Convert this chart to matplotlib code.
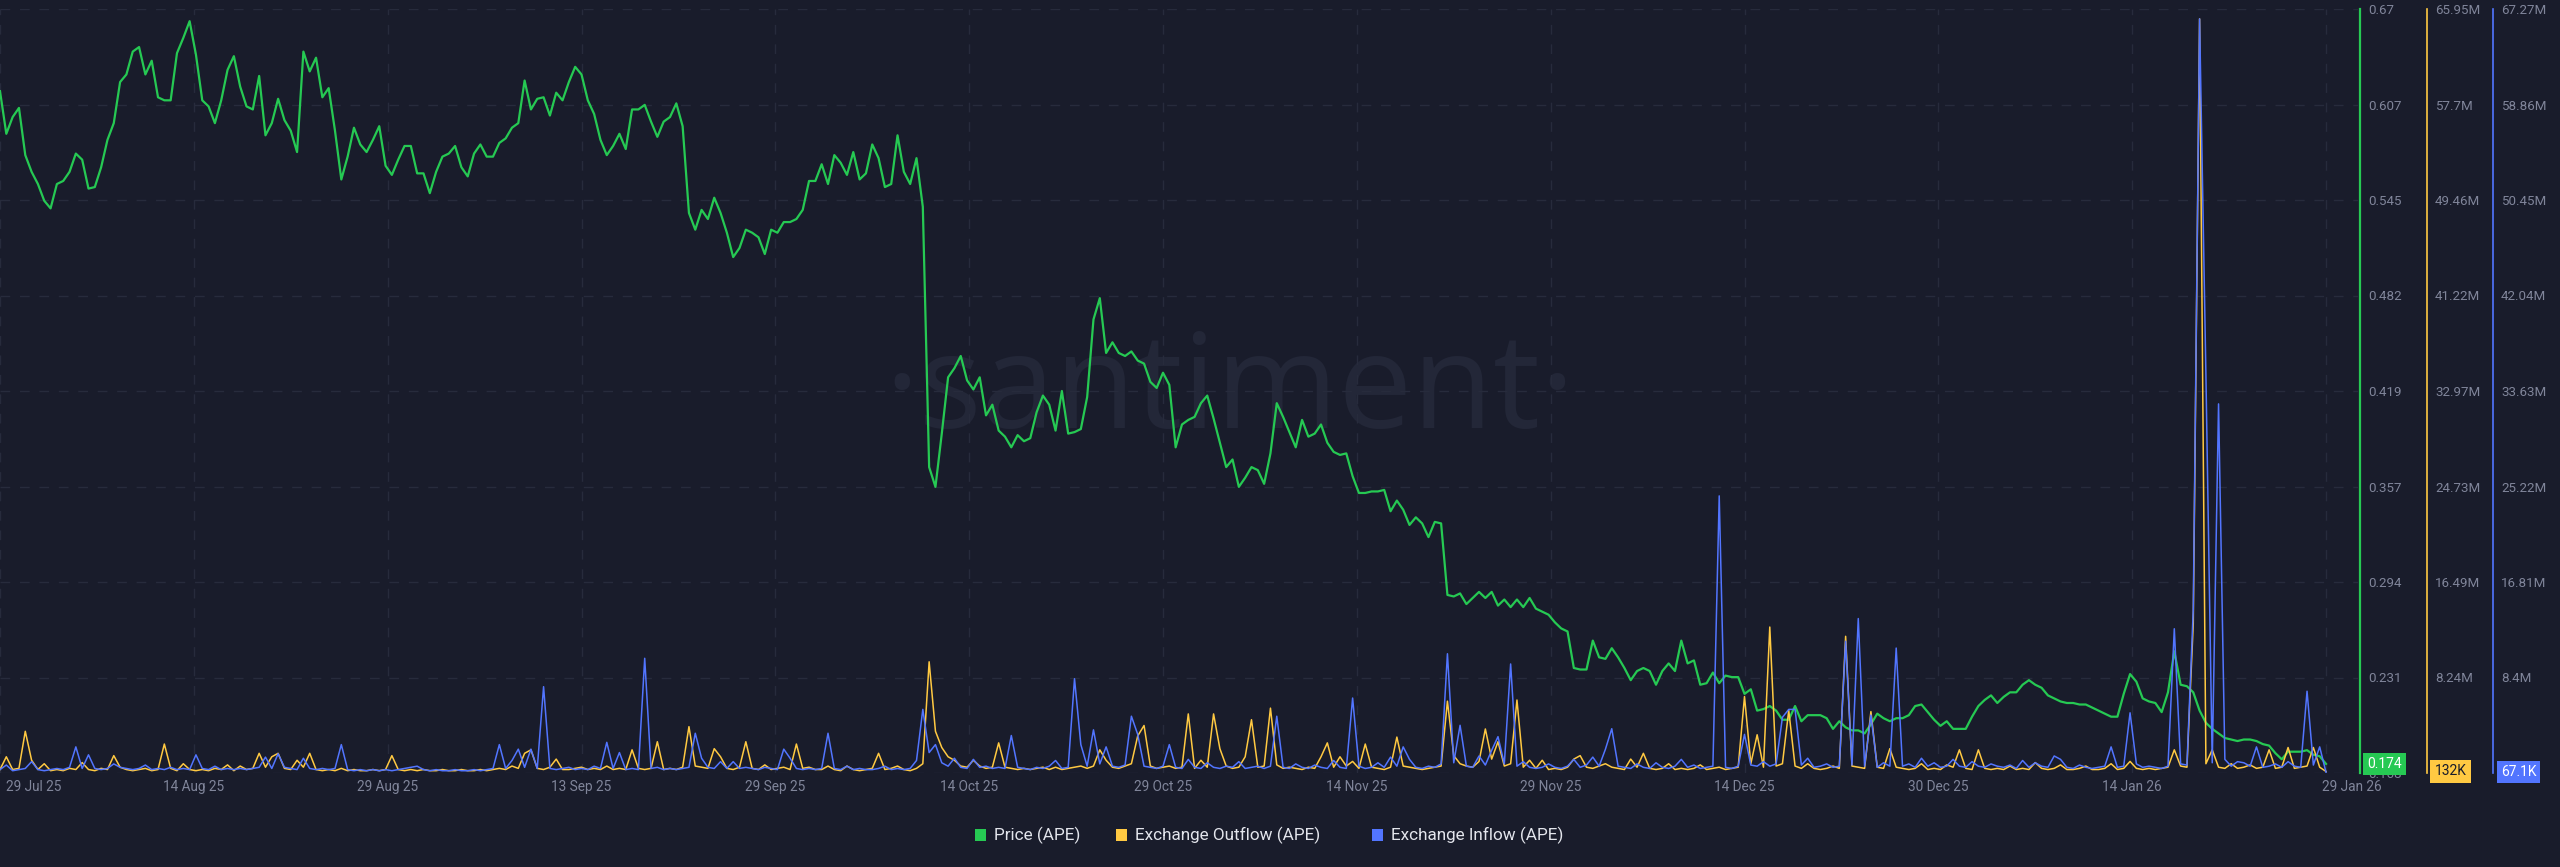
import numpy as np
import pandas as pd
import matplotlib
matplotlib.use("Agg")
import matplotlib.pyplot as plt
import matplotlib.dates as mdates
from matplotlib.patches import FancyBboxPatch
from matplotlib.transforms import blended_transform_factory, ScaledTranslation

plt.rcParams['font.family'] = ['Roboto', 'DejaVu Sans']

# ---- data (12h steps from 29 Jul 25) ----
price = [
    0.616, 0.588, 0.599, 0.605, 0.574, 0.563, 0.555, 0.544, 0.539, 0.555,
    0.557, 0.563, 0.575, 0.571, 0.552, 0.553, 0.566, 0.584, 0.595, 0.622,
    0.627, 0.642, 0.645, 0.627, 0.636, 0.612, 0.610, 0.610, 0.641, 0.651,
    0.662, 0.640, 0.610, 0.606, 0.595, 0.610, 0.630, 0.639, 0.619, 0.606,
    0.604, 0.626, 0.587, 0.595, 0.611, 0.597, 0.590, 0.576, 0.642, 0.629,
    0.638, 0.612, 0.618, 0.590, 0.558, 0.573, 0.592, 0.581, 0.576, 0.584,
    0.593, 0.567, 0.561, 0.571, 0.580, 0.580, 0.562, 0.562, 0.549, 0.563,
    0.573, 0.575, 0.580, 0.566, 0.560, 0.575, 0.581, 0.573, 0.573, 0.582,
    0.585, 0.592, 0.595, 0.623, 0.604, 0.611, 0.612, 0.600, 0.615, 0.610,
    0.622, 0.632, 0.627, 0.610, 0.601, 0.584, 0.574, 0.580, 0.588, 0.578,
    0.604, 0.604, 0.607, 0.596, 0.586, 0.596, 0.599, 0.608, 0.593, 0.536,
    0.525, 0.538, 0.532, 0.546, 0.536, 0.523, 0.507, 0.513, 0.525, 0.523,
    0.520, 0.509, 0.525, 0.523, 0.530, 0.530, 0.532, 0.538, 0.557, 0.557,
    0.568, 0.555, 0.574, 0.569, 0.561, 0.576, 0.558, 0.562, 0.581, 0.572,
    0.553, 0.555, 0.587, 0.563, 0.555, 0.572, 0.540, 0.369, 0.356, 0.391,
    0.428, 0.434, 0.442, 0.426, 0.420, 0.428, 0.403, 0.410, 0.393, 0.389,
    0.382, 0.390, 0.386, 0.388, 0.405, 0.416, 0.410, 0.393, 0.419, 0.391,
    0.392, 0.394, 0.415, 0.466, 0.480, 0.444, 0.451, 0.444, 0.442, 0.445,
    0.439, 0.437, 0.425, 0.421, 0.431, 0.423, 0.382, 0.397, 0.400, 0.402,
    0.411, 0.416, 0.401, 0.385, 0.369, 0.374, 0.356, 0.362, 0.369, 0.367,
    0.358, 0.378, 0.411, 0.402, 0.392, 0.382, 0.400, 0.389, 0.391, 0.397,
    0.385, 0.379, 0.377, 0.378, 0.363, 0.352, 0.352, 0.353, 0.353, 0.354,
    0.340, 0.347, 0.341, 0.331, 0.336, 0.332, 0.323, 0.333, 0.332, 0.285,
    0.284, 0.286, 0.279, 0.283, 0.287, 0.283, 0.287, 0.278, 0.282, 0.277,
    0.282, 0.277, 0.283, 0.276, 0.274, 0.272, 0.267, 0.263, 0.261, 0.237,
    0.236, 0.236, 0.255, 0.244, 0.243, 0.250, 0.244, 0.237, 0.229, 0.235,
    0.237, 0.235, 0.226, 0.235, 0.240, 0.235, 0.255, 0.240, 0.242, 0.226,
    0.227, 0.234, 0.227, 0.232, 0.231, 0.231, 0.220, 0.223, 0.209, 0.210,
    0.212, 0.209, 0.203, 0.203, 0.212, 0.202, 0.206, 0.206, 0.206, 0.204,
    0.197, 0.202, 0.198, 0.196, 0.196, 0.194, 0.200, 0.207, 0.204, 0.202,
    0.204, 0.204, 0.206, 0.212, 0.213, 0.208, 0.203, 0.199, 0.202, 0.197,
    0.197, 0.197, 0.205, 0.212, 0.216, 0.219, 0.214, 0.218, 0.221, 0.221,
    0.226, 0.229, 0.226, 0.224, 0.219, 0.217, 0.215, 0.214, 0.214, 0.213,
    0.213, 0.211, 0.209, 0.207, 0.205, 0.205, 0.220, 0.233, 0.228, 0.217,
    0.215, 0.214, 0.208, 0.221, 0.248, 0.226, 0.225, 0.221, 0.209, 0.201,
    0.197, 0.194, 0.191, 0.190, 0.189, 0.190, 0.190, 0.189, 0.187, 0.186,
    0.181, 0.177, 0.182, 0.182, 0.182, 0.183, 0.180, 0.179, 0.174,
]

# millions of APE
outflow = [
    0.3, 1.4, 0.3, 0.4, 3.6, 1.1, 0.3, 0.8, 0.2, 0.3,
    0.2, 0.4, 0.3, 0.9, 0.3, 0.2, 0.4, 0.3, 1.5, 0.5,
    0.3, 0.2, 0.3, 0.4, 0.2, 0.3, 2.5, 0.4, 0.2, 0.8,
    0.3, 0.2, 0.3, 0.2, 0.4, 0.3, 0.7, 0.2, 0.6, 0.3,
    0.4, 1.7, 0.5, 1.4, 1.7, 0.4, 0.3, 1.1, 0.5, 1.7,
    0.3, 0.2, 0.3, 0.2, 0.4, 0.2, 0.3, 0.2, 0.2, 0.3,
    0.2, 0.3, 1.5, 0.3, 0.2, 0.3, 0.2, 0.3, 0.2, 0.2,
    0.3, 0.2, 0.2, 0.3, 0.2, 0.2, 0.3, 0.2, 0.3, 0.4,
    0.3, 0.6, 0.4, 1.7, 2.0, 0.4, 0.3, 0.5, 1.2, 0.3,
    0.3, 0.4, 0.5, 0.3, 0.4, 0.3, 0.6, 0.3, 0.4, 0.3,
    2.0, 0.4, 0.3, 0.4, 2.7, 0.3, 0.4, 0.3, 0.5, 4.0,
    0.6, 0.5, 0.4, 2.1, 1.4, 0.4, 0.3, 0.5, 2.7, 0.4,
    0.3, 0.7, 0.3, 0.4, 0.5, 0.3, 2.5, 0.4, 0.5, 0.3,
    0.3, 0.6, 0.3, 0.2, 0.6, 0.3, 0.2, 0.3, 0.4, 1.7,
    0.3, 0.4, 0.6, 0.3, 0.2, 0.4, 0.8, 9.6, 3.6, 2.2,
    1.4, 1.1, 0.6, 0.5, 1.1, 0.6, 0.4, 0.5, 2.6, 0.5,
    0.4, 0.3, 0.4, 0.3, 0.4, 0.5, 0.3, 0.5, 0.3, 0.4,
    0.5, 0.6, 0.4, 0.6, 2.0, 1.1, 0.5, 0.4, 0.6, 0.8,
    3.2, 4.1, 0.6, 0.4, 0.5, 0.6, 0.4, 0.5, 5.1, 0.4,
    1.1, 0.5, 5.1, 2.1, 0.6, 0.4, 0.5, 1.4, 4.6, 0.5,
    0.6, 5.6, 0.7, 0.4, 0.5, 0.4, 0.3, 0.5, 0.4, 1.4,
    2.6, 0.5, 1.4, 0.6, 1.0, 0.4, 2.5, 0.5, 0.4, 0.3,
    0.5, 3.1, 0.6, 0.5, 0.4, 0.3, 0.4, 0.5, 0.6, 6.2,
    1.5, 0.8, 0.6, 0.5, 1.0, 3.8, 1.2, 2.7, 0.6, 0.8,
    6.3, 0.5, 1.1, 0.4, 1.1, 0.3, 0.4, 0.3, 0.5, 1.2,
    1.5, 0.5, 0.4, 0.6, 0.8, 0.5, 0.4, 0.3, 1.2, 0.5,
    1.7, 0.4, 0.3, 0.4, 0.8, 0.3, 0.4, 0.3, 0.4, 0.7,
    0.3, 0.4, 0.5, 0.3, 0.4, 0.5, 6.6, 0.8, 3.3, 0.5,
    12.6, 0.6, 0.8, 5.4, 0.6, 0.4, 0.8, 0.4, 0.3, 0.4,
    0.6, 0.4, 11.8, 0.6, 0.5, 0.4, 5.3, 0.5, 0.4, 2.1,
    0.5, 0.4, 0.3, 0.4, 0.8, 0.3, 0.4, 0.3, 0.7, 0.5,
    2.0, 0.4, 0.3, 2.0, 0.4, 0.3, 0.4, 0.3, 0.6, 0.3,
    0.4, 0.3, 0.9, 0.4, 0.3, 0.4, 0.7, 0.3, 0.3, 0.4,
    0.6, 0.3, 0.3, 0.4, 0.8, 0.3, 0.4, 1.0, 0.4, 0.3,
    0.4, 0.3, 0.4, 0.5, 2.0, 0.6, 0.5, 12.9, 65.1, 0.8,
    2.0, 0.5, 0.4, 0.8, 0.4, 0.5, 0.7, 0.4, 0.5, 2.0,
    0.4, 0.5, 2.2, 0.4, 0.5, 0.6, 2.2, 0.5, 0.132,
]

inflow = [
    0.3, 0.7, 0.2, 0.3, 0.4, 1.0, 0.3, 0.2, 0.3, 0.4,
    0.3, 0.5, 2.3, 0.4, 1.6, 0.4, 0.3, 0.4, 0.8, 0.5,
    0.4, 0.3, 0.4, 0.7, 0.3, 0.4, 0.3, 0.5, 0.3, 0.4,
    0.3, 1.6, 0.4, 0.3, 0.6, 0.3, 0.4, 0.3, 0.4, 0.3,
    0.4, 0.5, 1.4, 0.4, 1.7, 0.5, 0.4, 0.3, 1.3, 0.4,
    0.3, 0.4, 0.3, 0.4, 2.5, 0.3, 0.2, 0.3, 0.2, 0.3,
    0.2, 0.3, 0.2, 0.3, 0.4, 0.5, 0.6, 0.3, 0.2, 0.3,
    0.2, 0.2, 0.3, 0.2, 0.2, 0.3, 0.2, 0.3, 0.4, 2.5,
    0.4, 1.1, 2.1, 0.5, 2.1, 0.4, 7.6, 0.4, 0.3, 0.4,
    0.5, 0.3, 0.4, 0.3, 0.6, 0.4, 2.7, 0.4, 1.8, 0.3,
    0.4, 0.3, 10.1, 0.4, 0.5, 0.3, 0.4, 0.3, 0.4, 0.5,
    3.5, 1.3, 0.5, 0.4, 1.0, 0.4, 1.0, 0.4, 0.5, 0.4,
    0.3, 0.5, 0.4, 0.3, 2.1, 1.3, 0.4, 0.3, 0.4, 0.3,
    0.4, 3.5, 0.4, 0.3, 0.6, 0.3, 0.4, 0.3, 0.3, 0.4,
    0.6, 0.3, 0.4, 0.3, 0.4, 1.1, 5.6, 1.8, 2.5, 0.9,
    0.6, 1.3, 0.5, 0.4, 1.2, 0.5, 0.6, 0.4, 0.5, 0.4,
    3.3, 0.5, 0.4, 0.3, 0.5, 0.4, 0.6, 1.1, 0.4, 0.5,
    8.3, 2.5, 0.6, 3.8, 0.8, 2.3, 0.6, 0.5, 0.7, 5.0,
    3.4, 0.6, 0.5, 0.4, 0.6, 2.5, 0.5, 0.4, 1.2, 0.5,
    0.4, 0.9, 0.5, 0.4, 0.6, 0.5, 1.0, 0.4, 0.5, 0.6,
    0.4, 0.6, 5.0, 0.5, 0.4, 0.8, 0.5, 0.4, 0.7, 0.5,
    0.4, 1.1, 0.5, 0.4, 6.6, 0.6, 0.4, 0.5, 0.9, 0.5,
    1.4, 0.6, 2.3, 1.2, 0.5, 0.4, 0.6, 0.5, 0.8, 10.5,
    0.9, 4.2, 0.6, 0.5, 1.5, 0.7, 2.0, 3.2, 0.8, 9.6,
    0.6, 1.0, 0.5, 0.4, 0.5, 0.8, 0.5, 0.4, 0.6, 1.2,
    0.5, 0.7, 1.4, 0.6, 2.1, 3.9, 0.6, 0.5, 0.4, 0.8,
    0.5, 0.4, 0.9, 0.5, 0.4, 0.6, 1.2, 0.5, 0.7, 0.4,
    0.5, 0.6, 24.4, 0.5, 0.4, 0.6, 3.4, 0.7, 0.6, 1.0,
    0.6, 0.8, 4.9, 5.6, 5.6, 0.7, 1.3, 0.5, 0.6, 0.8,
    0.5, 0.6, 11.6, 0.7, 13.6, 0.6, 5.1, 0.5, 0.9, 0.6,
    11.0, 0.6, 0.8, 0.5, 1.3, 0.6, 0.9, 0.5, 0.6, 1.2,
    0.6, 0.5, 1.0, 0.6, 0.5, 0.8, 0.6, 0.5, 0.7, 0.4,
    1.1, 0.5, 0.9, 0.6, 0.5, 1.5, 1.2, 0.5, 0.4, 0.7,
    0.5, 0.4, 0.5, 0.6, 2.3, 0.5, 0.6, 5.3, 0.8, 0.5,
    0.6, 0.5, 0.4, 0.6, 12.7, 0.8, 0.7, 14.4, 66.4, 35.1,
    0.9, 32.5, 1.2, 0.6, 1.0, 0.9, 0.6, 2.3, 0.5, 0.6,
    0.8, 0.5, 1.0, 0.6, 0.5, 7.2, 0.7, 2.3, 0.0671,
]

date_labels = ["29 Jul 25", "14 Aug 25", "29 Aug 25", "13 Sep 25", "29 Sep 25",
               "14 Oct 25", "29 Oct 25", "14 Nov 25", "29 Nov 25", "14 Dec 25",
               "30 Dec 25", "14 Jan 26", "29 Jan 26"]

# bottom labels of the flow axes sit under the last-value badges
price_labels = ["0.168", "0.231", "0.294", "0.357", "0.419", "0.482", "0.545", "0.607", "0.67"]
out_labels = ["", "8.24M", "16.49M", "24.73M", "32.97M", "41.22M", "49.46M", "57.7M", "65.95M"]
in_labels = ["", "8.4M", "16.81M", "25.22M", "33.63M", "42.04M", "50.45M", "58.86M", "67.27M"]
price_rng = (0.168, 0.67)
out_rng = (0, 65.95)
in_rng = (0, 67.27)

# ---- style ----
W, H = 2560, 867
BG = "#191c2b"
GRID = "#272b3c"
TXT = "#80859a"
GREEN = "#26c953"
ORANGE = "#ffc942"
BLUE = "#5275ff"

dates = pd.date_range("2025-07-29", periods=len(price), freq="12h")
x0 = mdates.date2num(dates[0])
x1 = mdates.date2num(dates[-1])

fig = plt.figure(figsize=(W / 100, H / 100), dpi=100, facecolor=BG)
ax = fig.add_axes([0, 1 - 773 / H, 2358 / W, (773 - 9) / H])
ax.set_facecolor(BG)
ax_out = ax.twinx()
ax_in = ax.twinx()

# watermark
ax.text(1230 / W, 1 - 428 / H, "·santiment·", transform=fig.transFigure,
        ha="center", va="baseline", fontsize=95, color="#232738",
        family="Open Sans", zorder=0.5)

ax.plot(dates, price, color=GREEN, lw=1.6, zorder=3)
ax_out.plot(dates, outflow, color=ORANGE, lw=1.1)
ax_in.plot(dates, inflow, color=BLUE, lw=1.1)

ax.set_xlim(x0, x0 + (x1 - x0) * 2358 / 2326)
ax.set_ylim(*price_rng)
ax_out.set_ylim(*out_rng)
ax_in.set_ylim(*in_rng)

# x ticks
xt = np.linspace(x0, x1, len(date_labels))
ax.set_xticks(xt, date_labels)
ax.tick_params(axis="x", colors=TXT, labelsize=9.8, length=0, pad=5)
lbls = ax.get_xticklabels()
lbls[0].set_ha("left")
lbls[0].set_transform(lbls[0].get_transform() + ScaledTranslation(6 / 100, 0, fig.dpi_scale_trans))
lbls[-1].set_ha("left")
lbls[-1].set_transform(lbls[-1].get_transform() + ScaledTranslation(-4 / 100, 0, fig.dpi_scale_trans))

# y ticks
ax.set_yticks(np.linspace(*price_rng, len(price_labels)), price_labels)
ax_out.set_yticks(np.linspace(*out_rng, len(out_labels)), out_labels)
ax_in.set_yticks(np.linspace(*in_rng, len(in_labels)), in_labels)
ax.yaxis.tick_right()
for a in (ax, ax_out, ax_in):
    a.tick_params(axis="y", colors=TXT, labelsize=9.6, length=0, pad=5.8)
    for s in ("left", "top", "bottom"):
        a.spines[s].set_visible(False)

ax.spines["right"].set_position(("axes", 2360 / 2358))
ax.spines["right"].set_color(GREEN)
ax.spines["right"].set_linewidth(1.6)
ax_out.spines["right"].set_position(("axes", 2427 / 2358))
ax_out.spines["right"].set_color(ORANGE)
ax_out.spines["right"].set_linewidth(1.2)
ax_in.spines["right"].set_position(("axes", 2493 / 2358))
ax_in.spines["right"].set_color(BLUE)
ax_in.spines["right"].set_linewidth(1.2)

ax.grid(True, color=GRID, lw=1.0, linestyle=(0, (7, 7)))
ax.set_axisbelow(True)

# last-value badges
def badge(a, xpix, val, text, fc, tc):
    tr = blended_transform_factory(fig.transFigure, a.transData)
    a.text(xpix / W, val, text, transform=tr, ha="center", va="center",
           fontsize=10, color=tc, clip_on=False, zorder=10,
           bbox=dict(boxstyle="square,pad=0.3", fc=fc, ec="none"))

badge(ax, 2384.5, price[-1], f"{price[-1]:.3f}", GREEN, "white")
badge(ax_out, 2450.5, outflow[-1], f"{outflow[-1] * 1000:.3g}K", ORANGE, BG)
badge(ax_in, 2518.5, inflow[-1], f"{inflow[-1] * 1000:.3g}K", BLUE, "white")

# legend
legend_items = [("Price (APE)", GREEN, 975), ("Exchange Outflow (APE)", ORANGE, 1116),
                ("Exchange Inflow (APE)", BLUE, 1372)]
for name, col, xp in legend_items:
    fig.patches.append(FancyBboxPatch((xp / W, 1 - 841 / H), 11 / W, 12 / H,
                                      boxstyle="square,pad=0", fc=col, ec="none",
                                      transform=fig.transFigure, figure=fig))
    fig.text((xp + 19) / W, 1 - 835 / H, name, ha="left", va="center",
             fontsize=12.3, color="#e3e5ec")

fig.savefig("out.png", dpi=100, facecolor=BG)
